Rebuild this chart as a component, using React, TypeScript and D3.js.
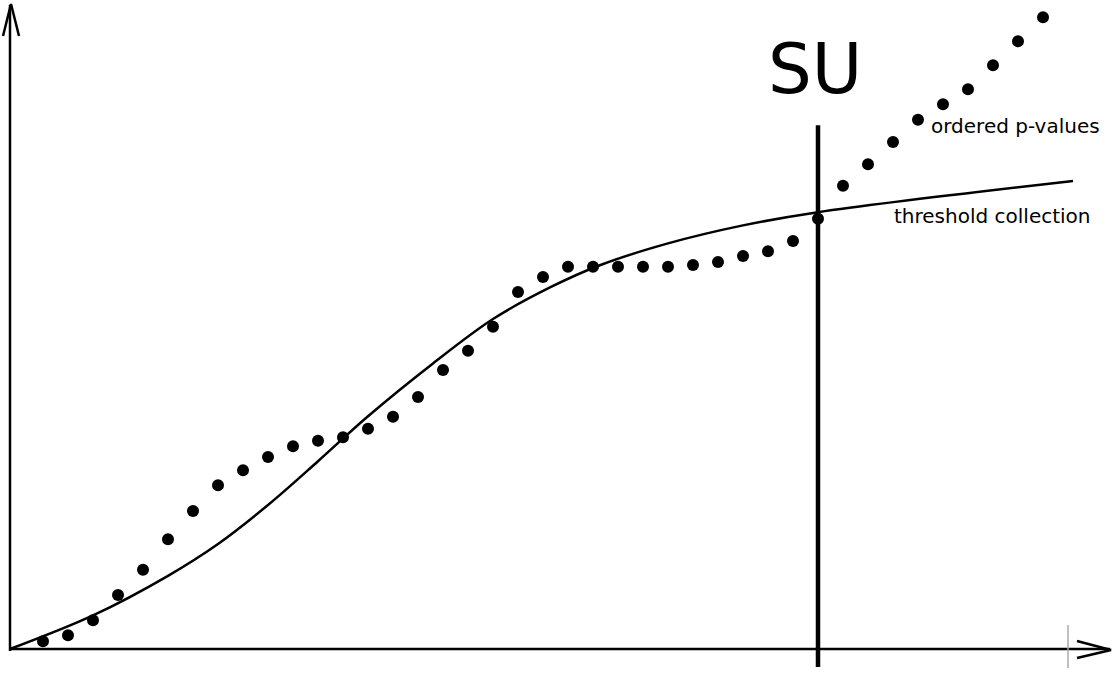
import React from 'react';
import * as d3 from 'd3';

const W = 1118;
const H = 678;

// ordered p-values, rank 1..41 (drawing units, 0..100 = axis height)
const pValues = [
  1.3, 2.3, 4.8, 9.0, 13.2, 18.3, 23.0, 27.3, 29.8, 32.0,
  33.8, 34.7, 35.3, 36.7, 38.7, 42.0, 46.5, 49.7, 53.7, 59.5,
  62.0, 63.7, 63.7, 63.7, 63.7, 63.7, 64.0, 64.5, 65.5, 66.3,
  68.0, 71.7, 77.2, 80.8, 84.5, 88.2, 90.8, 93.3, 97.3, 101.3, 105.3,
];

// threshold collection, read at these ranks
const thresholdRanks = [-0.32, 3, 6, 8, 10, 12, 14, 16.6, 19, 21.3, 23.3, 26, 29, 32, 42.2];
const thresholdValues = [0, 5.6, 12.2, 17.5, 24, 31.3, 38.8, 47.6, 55, 60.3, 64, 67.6, 70.6, 72.8, 78];

// step-up cut
const suRank = 32;
const suLabel = 'SU';
const pLabel = 'ordered p-values';
const tLabel = 'threshold collection';

const App = () => {
  const x = d3.scaleLinear().domain([0, 41]).range([18, 1043]);
  const y = d3.scaleLinear().domain([0, 100]).range([649, 49]);

  const x0 = x(-0.32);
  const y0 = y(0);

  const threshold = thresholdRanks.map((r, i) => [r, thresholdValues[i]] as [number, number]);
  const line = d3.line<[number, number]>()
    .x(d => x(d[0]))
    .y(d => y(d[1]))
    .curve(d3.curveCatmullRom.alpha(0.5));

  const suX = x(suRank);
  const font = '"DejaVu Sans", Verdana, sans-serif';

  return (
    <div style={{ position: 'absolute', left: 0, top: 0 }}>
      <svg width={W} height={H} style={{ display: 'block', background: '#fff' }}>
        {/* axes */}
        <g stroke="#000" strokeWidth={2.5} fill="none">
          <line x1={x0} y1={y0} x2={1110} y2={y0} />
          <polyline points={`1077,${y0 - 8} 1111,${y0 + 1} 1077,${y0 + 9}`} />
          <line x1={x0} y1={y0 + 2} x2={x0} y2={5} />
          <polyline points={`3,36 ${x0 + 1},4 19,36`} />
        </g>
        <line x1={1068} y1={y0 - 24} x2={1068} y2={y0 + 19} stroke="#aaa" strokeWidth={1.5} />

        {/* threshold curve */}
        <path d={line(threshold) || ''} fill="none" stroke="#000" strokeWidth={2.5} />

        {/* ordered p-values */}
        <g fill="#000">
          {pValues.map((v, i) => (
            <circle key={i} cx={x(i + 1)} cy={y(v)} r={6} />
          ))}
        </g>

        {/* SU cut */}
        <line x1={suX} y1={y(87.3)} x2={suX} y2={y(-3)} stroke="#000" strokeWidth={4.5} />
        <text x={suX - 50} y={93} fontFamily={font} fontSize={69} fill="#000">{suLabel}</text>

        <text x={x(36) + 13} y={133} fontFamily={font} fontSize={20} fill="#000">{pLabel}</text>
        <text x={x(35) + 1} y={223} fontFamily={font} fontSize={20} fill="#000">{tLabel}</text>
      </svg>
    </div>
  );
};

export default App;
